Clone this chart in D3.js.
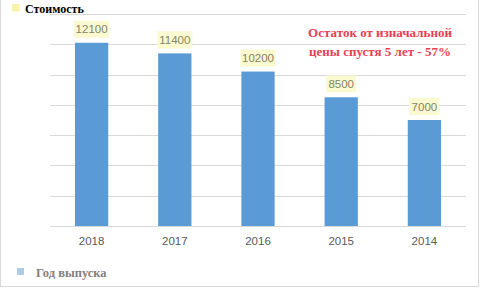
<!doctype html>
<html lang="ru">
<head>
<meta charset="utf-8">
<title>Стоимость по году выпуска</title>
<script src="https://d3js.org/d3.v7.min.js"></script>
<style>
  body { margin: 0; background: #fff; }
  svg { display: block; }
</style>
</head>
<body>
<div id="chart"></div>
<script>
// data
var years = ["2018", "2017", "2016", "2015", "2014"];
var prices = [12100, 11400, 10200, 8500, 7000];
var gridTicks = [0, 2000, 4000, 6000, 8000, 10000, 12000, 14000];
var noteLines = ["Остаток от изначальной", "цены спустя 5 лет - 57%"];

var W = 480, H = 288;
var plot = {left: 50, right: 466, top: 14, bottom: 226};

var svg = d3.select("#chart").append("svg")
  .attr("width", W)
  .attr("height", H);

// outer frame
svg.append("rect")
  .attr("x", 0.5).attr("y", -1)
  .attr("width", 478).attr("height", 287.5)
  .attr("fill", "none")
  .attr("stroke", "#d9d9d9");

var x = d3.scaleBand()
  .domain(years)
  .range([plot.left, plot.right]);

var y = d3.scaleLinear()
  .domain([0, 14000])
  .range([plot.bottom, plot.top]);

var barW = x.bandwidth() * 0.4;

// gridlines
svg.append("g")
  .selectAll("line")
  .data(gridTicks)
  .enter()
  .append("line")
  .attr("x1", plot.left)
  .attr("x2", plot.right)
  .attr("y1", function(d) { return Math.round(y(d)) + 0.5; })
  .attr("y2", function(d) { return Math.round(y(d)) + 0.5; })
  .attr("stroke", "#d9d9d9")
  .attr("stroke-width", 1);

// bars
svg.append("g")
  .selectAll("rect")
  .data(prices)
  .enter()
  .append("rect")
  .attr("x", function(d, i) { return x(years[i]) + x.bandwidth() / 2 - barW / 2; })
  .attr("y", function(d) { return y(d); })
  .attr("width", barW)
  .attr("height", function(d) { return y(0) - y(d); })
  .attr("fill", "#5b9bd5");

// value labels with yellow boxes
var labels = svg.append("g")
  .selectAll("g")
  .data(prices)
  .enter()
  .append("g")
  .attr("transform", function(d, i) {
    return "translate(" + (x(years[i]) + x.bandwidth() / 2) + "," + y(d) + ")";
  });

labels.append("rect")
  .attr("x", function(d) { return String(d).length == 5 ? -17.5 : -15; })
  .attr("y", -22)
  .attr("width", function(d) { return String(d).length == 5 ? 35 : 30; })
  .attr("height", 17)
  .attr("fill", "#fbf9cf");

labels.append("text")
  .attr("y", -9.5)
  .attr("text-anchor", "middle")
  .attr("font-family", "Liberation Sans, Arial, sans-serif")
  .attr("font-size", "11.5px")
  .attr("fill", "#858469")
  .text(function(d) { return d; });

// x axis labels
svg.append("g")
  .selectAll("text")
  .data(years)
  .enter()
  .append("text")
  .attr("x", function(d) { return x(d) + x.bandwidth() / 2; })
  .attr("y", 245)
  .attr("text-anchor", "middle")
  .attr("font-family", "Liberation Sans, Arial, sans-serif")
  .attr("font-size", "11.5px")
  .attr("fill", "#595959")
  .text(function(d) { return d; });

// top legend
svg.append("rect")
  .attr("x", 12).attr("y", 4)
  .attr("width", 7.5).attr("height", 7.5)
  .attr("fill", "#f7f3a8");
svg.append("text")
  .attr("x", 25).attr("y", 12.5)
  .attr("font-family", "Liberation Serif, Times New Roman, serif")
  .attr("font-weight", "bold")
  .attr("font-size", "12px")
  .attr("fill", "#000")
  .text("Стоимость");

// bottom legend
svg.append("rect")
  .attr("x", 17).attr("y", 268)
  .attr("width", 7).attr("height", 7)
  .attr("fill", "#aecbe8");
svg.append("text")
  .attr("x", 36).attr("y", 277)
  .attr("font-family", "Liberation Serif, Times New Roman, serif")
  .attr("font-weight", "bold")
  .attr("font-size", "12.5px")
  .attr("fill", "#808080")
  .text("Год выпуска");

// red note
svg.append("g")
  .selectAll("text")
  .data(noteLines)
  .enter()
  .append("text")
  .attr("x", 380)
  .attr("y", function(d, i) { return 37 + i * 18.5; })
  .attr("text-anchor", "middle")
  .attr("font-family", "Liberation Serif, Times New Roman, serif")
  .attr("font-weight", "bold")
  .attr("font-size", "13px")
  .attr("fill", "#ea3e52")
  .text(function(d) { return d; });
</script>
</body>
</html>
